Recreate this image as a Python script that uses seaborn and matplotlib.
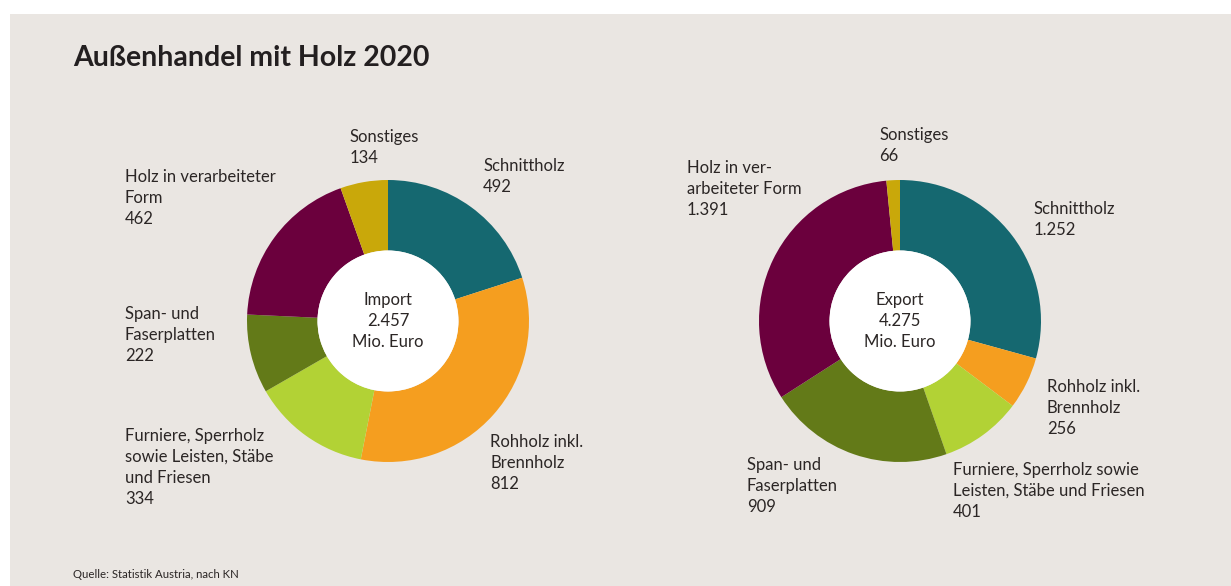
import matplotlib
matplotlib.use("Agg")
import matplotlib.pyplot as plt
import seaborn as sns
from matplotlib.patches import Circle, Rectangle

# --- data -------------------------------------------------------------
categories = [
    "Schnittholz",
    "Rohholz inkl. Brennholz",
    "Furniere, Sperrholz sowie Leisten, Stäbe und Friesen",
    "Span- und Faserplatten",
    "Holz in verarbeiteter Form",
    "Sonstiges",
]
import_values = [492, 812, 334, 222, 462, 134]
export_values = [1252, 256, 401, 909, 1391, 66]
import_total = "2.457"
export_total = "4.275"

import_labels = [
    "Schnittholz\n492",
    "Rohholz inkl.\nBrennholz\n812",
    "Furniere, Sperrholz\nsowie Leisten, Stäbe\nund Friesen\n334",
    "Span- und\nFaserplatten\n222",
    "Holz in verarbeiteter\nForm\n462",
    "Sonstiges\n134",
]
export_labels = [
    "Schnittholz\n1.252",
    "Rohholz inkl.\nBrennholz\n256",
    "Furniere, Sperrholz sowie\nLeisten, Stäbe und Friesen\n401",
    "Span- und\nFaserplatten\n909",
    "Holz in ver-\narbeiteter Form\n1.391",
    "Sonstiges\n66",
]

colors = ["#156870", "#F59E1F", "#B2D235", "#637A18", "#6B003D", "#C9A80A"]
BG = "#EAE6E2"
TXT = "#2b2625"

# --- layout (pixel units, y measured from top) -------------------------
W, H = 1231, 586
RADIUS = 141
import_center = (388, 321)
export_center = (900, 321)
import_label_pos = [(483, 166), (490, 442), (125, 436), (125, 314), (125, 177), (350, 137)]
export_label_pos = [(1034, 209), (1047, 387), (953, 470), (747, 465), (687, 168), (879, 135)]

sns.set_theme(style="white")
plt.rcParams["font.family"] = ["Lato", "DejaVu Sans"]

fig = plt.figure(figsize=(W / 100, H / 100), dpi=100, facecolor="white")
ax = fig.add_axes([0, 0, 1, 1])

ax.add_patch(Rectangle((10, 0), W - 10, H - 14, facecolor=BG, edgecolor="none", zorder=0))


def draw_donut(values, labels, center, label_pos, title, total):
    cx, cy = center
    ax.pie(
        values,
        colors=colors,
        startangle=90,
        counterclock=False,
        radius=RADIUS,
        center=(cx, H - cy),
        wedgeprops={"width": RADIUS * 0.5, "linewidth": 0},
        frame=True,
    )
    ax.add_patch(Circle((cx, H - cy), RADIUS * 0.5, facecolor="white", edgecolor="none", zorder=3))
    for text, (x, y) in zip(labels, label_pos):
        ax.text(x, H - y + 8, text, ha="left", va="top", fontsize=12,
                color=TXT, linespacing=1.38)
    ax.text(cx, H - cy, f"{title}\n{total}\nMio. Euro", ha="center", va="center",
            fontsize=12, color=TXT, linespacing=1.38, zorder=4)


draw_donut(import_values, import_labels, import_center, import_label_pos, "Import", import_total)
draw_donut(export_values, export_labels, export_center, export_label_pos, "Export", export_total)

ax.set_xlim(0, W)
ax.set_ylim(0, H)
ax.set_aspect("equal")
ax.axis("off")

ax.text(73, H - 58, "Außenhandel mit Holz 2020", ha="left", va="center",
        fontsize=20.5, fontweight="bold", color="#231f20")
ax.text(73, H - 575, "Quelle: Statistik Austria, nach KN", ha="left", va="center",
        fontsize=8.2, color=TXT)

fig.savefig("out.png", dpi=100, facecolor="white")
